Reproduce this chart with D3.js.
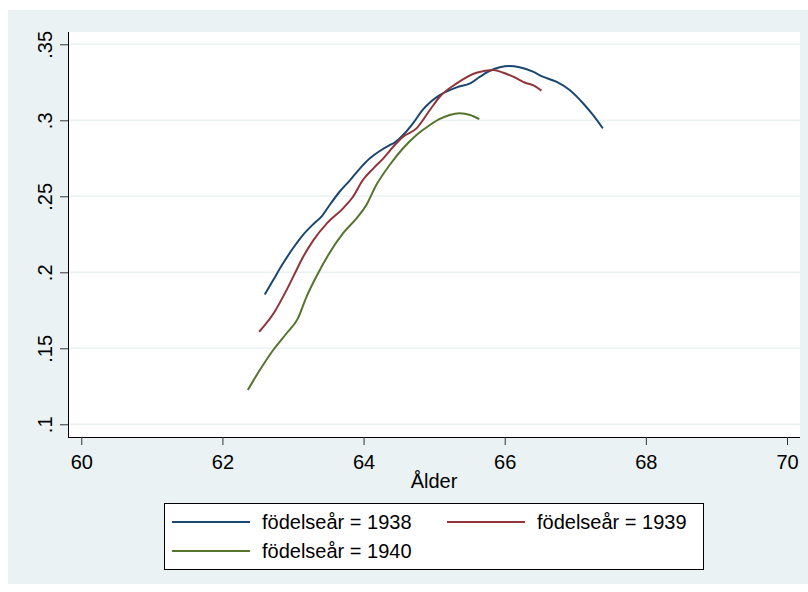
<!DOCTYPE html>
<html>
<head>
<meta charset="utf-8">
<script src="https://cdn.jsdelivr.net/npm/d3@7"></script>
<style>
  html, body { margin: 0; padding: 0; background: #ffffff; }
  svg { display: block; }
  text { font-family: "Liberation Sans", Arial, sans-serif; fill: #000; }
</style>
</head>
<body>
<svg id="chart" width="808" height="592"></svg>
<script>
// ---- data ----
const xTicks = [60, 62, 64, 66, 68, 70];
const yTicks = [0.1, 0.15, 0.2, 0.25, 0.3, 0.35];
const yTickLabels = [".1", ".15", ".2", ".25", ".3", ".35"];
const xTitle = "Ålder";

const seriesNames = ["födelseår = 1938", "födelseår = 1939", "födelseår = 1940"];
const seriesColors = ["#1a476f", "#90353b", "#55752f"];

const age1938 = [62.60, 62.72, 62.86, 63.00, 63.14, 63.29, 63.41, 63.52, 63.66, 63.81, 63.95, 64.09, 64.23, 64.37, 64.44, 64.56, 64.70, 64.84, 64.96, 65.08, 65.32, 65.51, 65.65, 65.79, 65.93, 66.07, 66.21, 66.40, 66.54, 66.73, 66.92, 67.11, 67.25, 67.39];
const val1938 = [0.1854, 0.1949, 0.2059, 0.2158, 0.2245, 0.2318, 0.2370, 0.2443, 0.2530, 0.2607, 0.2684, 0.2750, 0.2798, 0.2837, 0.2853, 0.2903, 0.2980, 0.3070, 0.3126, 0.3166, 0.3217, 0.3243, 0.3287, 0.3326, 0.3349, 0.3357, 0.3349, 0.3320, 0.3287, 0.3254, 0.3199, 0.3112, 0.3035, 0.2947];

const age1939 = [62.52, 62.74, 62.91, 63.05, 63.12, 63.29, 63.48, 63.71, 63.85, 63.99, 64.14, 64.28, 64.42, 64.56, 64.75, 64.94, 65.08, 65.32, 65.60, 65.84, 65.98, 66.12, 66.29, 66.40, 66.52];
const val1939 = [0.1609, 0.1741, 0.1884, 0.2015, 0.2081, 0.2212, 0.2322, 0.2421, 0.2497, 0.2607, 0.2684, 0.2750, 0.2826, 0.2892, 0.2947, 0.3068, 0.3155, 0.3243, 0.3313, 0.3331, 0.3313, 0.3287, 0.3247, 0.3232, 0.3195];

const age1940 = [62.36, 62.53, 62.72, 62.91, 63.07, 63.19, 63.33, 63.50, 63.71, 63.90, 64.04, 64.18, 64.37, 64.56, 64.75, 64.94, 65.08, 65.22, 65.36, 65.51, 65.64];
const val1940 = [0.1226, 0.1357, 0.1489, 0.1599, 0.1697, 0.1837, 0.1971, 0.2114, 0.2257, 0.2355, 0.2443, 0.2574, 0.2706, 0.2816, 0.2903, 0.2969, 0.3009, 0.3035, 0.3046, 0.3035, 0.3007];

const seriesAges = [age1938, age1939, age1940];
const seriesVals = [val1938, val1939, val1940];

// ---- layout ----
const svg = d3.select("#chart");
const plot = { left: 68, right: 800, top: 32, bottom: 437 };

svg.append("rect").attr("x", 8).attr("y", 10).attr("width", 800).attr("height", 574)
  .attr("fill", "#eaf2f3");
svg.append("rect").attr("x", plot.left).attr("y", plot.top)
  .attr("width", plot.right - plot.left).attr("height", plot.bottom - plot.top)
  .attr("fill", "#ffffff");

const x = d3.scaleLinear().domain([59.812, 70.184]).range([plot.left, plot.right]);
const y = d3.scaleLinear().domain([0.09164, 0.3581]).range([plot.bottom, plot.top]);

// gridlines
svg.append("g").selectAll("line").data(yTicks).join("line")
  .attr("x1", plot.left).attr("x2", plot.right)
  .attr("y1", d => y(d)).attr("y2", d => y(d))
  .attr("stroke", "#eaf2f3").attr("stroke-width", 1.6);

// axes
const xAxis = d3.axisBottom(x).tickValues(xTicks).tickSize(8).tickPadding(4).tickFormat(d3.format("d"));
const gx = svg.append("g").attr("transform", `translate(0,${plot.bottom})`).call(xAxis);
gx.select(".domain").attr("d", `M${plot.left},0.5H${plot.right}`).attr("stroke", "#000");
gx.selectAll(".tick line").attr("stroke", "#333");
gx.selectAll(".tick text").attr("font-size", 20).attr("font-family", "Liberation Sans, Arial, sans-serif")
  .attr("y", 32).attr("dy", 0);

const yAxis = d3.axisLeft(y).tickValues(yTicks).tickSize(8).tickFormat((d, i) => yTickLabels[i]);
const gy = svg.append("g").attr("transform", `translate(${plot.left},0)`).call(yAxis);
gy.select(".domain").attr("d", `M0.5,${plot.top}V${plot.bottom}`).attr("stroke", "#000");
gy.selectAll(".tick line").attr("stroke", "#333");
gy.selectAll(".tick text")
  .attr("font-size", 20).attr("font-family", "Liberation Sans, Arial, sans-serif")
  .attr("x", null).attr("dy", null)
  .attr("text-anchor", "middle")
  .attr("transform", "translate(-16.5,0) rotate(-90)");

// axis title
svg.append("text").attr("x", (plot.left + plot.right) / 2).attr("y", 488)
  .attr("text-anchor", "middle").attr("font-size", 20).text(xTitle);

// lines
const line = d3.line().x(d => x(d[0])).y(d => y(d[1])).curve(d3.curveMonotoneX);
seriesAges.forEach((ages, i) => {
  const pts = ages.map((a, j) => [a, seriesVals[i][j]]);
  svg.append("path").datum(pts).attr("d", line)
    .attr("fill", "none").attr("stroke", seriesColors[i])
    .attr("stroke-width", 2).attr("stroke-linejoin", "round").attr("stroke-linecap", "butt");
});

// legend
const lg = svg.append("g");
lg.append("rect").attr("x", 164.5).attr("y", 503.5).attr("width", 539).attr("height", 66)
  .attr("fill", "#ffffff").attr("stroke", "#000").attr("stroke-width", 1);
const legendPos = [[172, 522], [447, 522], [172, 551]];
seriesNames.forEach((name, i) => {
  const [lx, ly] = legendPos[i];
  lg.append("line").attr("x1", lx).attr("x2", lx + 78).attr("y1", ly).attr("y2", ly)
    .attr("stroke", seriesColors[i]).attr("stroke-width", 2);
  lg.append("text").attr("x", lx + 90).attr("y", ly + 7).attr("font-size", 20).text(name);
});
</script>
</body>
</html>
